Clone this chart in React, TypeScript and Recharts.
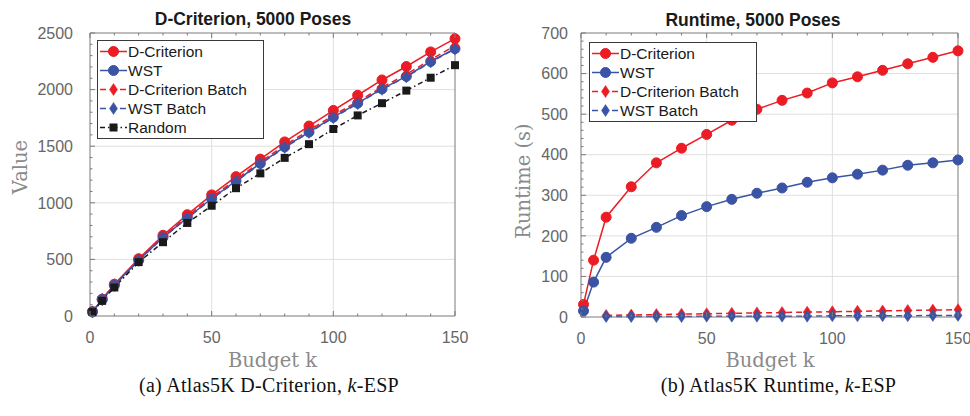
import React from 'react';
import { LineChart, Line, XAxis, YAxis, CartesianGrid, Legend } from 'recharts';

// budget k sampled along the x axis
const budget = [1, 5, 10, 20, 30, 40, 50, 60, 70, 80, 90, 100, 110, 120, 130, 140, 150];

// D-criterion value per method
const valueDCrit = [38, 149, 281, 506, 713, 895, 1070, 1231, 1386, 1538, 1678, 1816, 1950, 2085, 2204, 2333, 2450];
const valueWst = [36, 145, 272, 492, 695, 868, 1038, 1193, 1348, 1494, 1625, 1757, 1880, 2006, 2117, 2248, 2362];
const valueDCritBatch = [37, 147, 276, 498, 702, 878, 1050, 1205, 1362, 1508, 1640, 1772, 1895, 2020, 2135, 2265, 2388];
const valueWstBatch = [36, 144, 270, 490, 692, 864, 1034, 1188, 1343, 1488, 1620, 1752, 1876, 2002, 2112, 2243, 2358];
const valueRandom = [35, 134, 252, 476, 652, 822, 974, 1129, 1260, 1397, 1518, 1652, 1772, 1880, 1991, 2105, 2216];

// runtime in seconds (batch variants start at k = 10)
const runtimeDCrit = [31, 140, 246, 321, 380, 416, 450, 485, 512, 534, 552, 577, 592, 608, 624, 640, 656];
const runtimeWst = [15, 86, 147, 194, 221, 250, 272, 290, 305, 318, 332, 343, 352, 362, 374, 380, 387];
const runtimeDCritBatch = [null, null, 4, 5, 6, 7, 8, 9, 10, 11, 12, 13, 14, 15, 16, 17, 18];
const runtimeWstBatch = [null, null, 1, 1, 1, 1, 2, 2, 2, 2, 2, 3, 3, 3, 3, 4, 4];

// axis tick labels
const kLabels = [0, 50, 100, 150];
const valueLabels = [0, 500, 1000, 1500, 2000, 2500];
const runtimeLabels = [0, 100, 200, 300, 400, 500, 600, 700];

const RED = '#ec1c24';
const BLUE = '#3a53a4';
const BLACK = '#1a1a1a';
const AXIS = '#7a7a7a';
const GRID = '#dfdfdf';
const SANS = '"Liberation Sans", Arial, sans-serif';
const SERIF = '"DejaVu Serif", serif';
const CAPTION = '"Liberation Serif", "Times New Roman", serif';

type Shape = 'circle' | 'diamond' | 'square';
type Series = { key: string; name: string; color: string; dash?: string; shape: Shape };

const valueSeries: Series[] = [
  { key: 'dcrit', name: 'D-Criterion', color: RED, shape: 'circle' },
  { key: 'wst', name: 'WST', color: BLUE, shape: 'circle' },
  { key: 'dcritBatch', name: 'D-Criterion Batch', color: RED, dash: '6 4', shape: 'diamond' },
  { key: 'wstBatch', name: 'WST Batch', color: BLUE, dash: '6 4', shape: 'diamond' },
  { key: 'random', name: 'Random', color: BLACK, dash: '5 3 1.5 3', shape: 'square' },
];
const runtimeSeries = valueSeries.slice(0, 4);

const valueRows = budget.map((k, i) => ({
  k,
  dcrit: valueDCrit[i],
  wst: valueWst[i],
  dcritBatch: valueDCritBatch[i],
  wstBatch: valueWstBatch[i],
  random: valueRandom[i],
}));
const runtimeRows = budget.map((k, i) => ({
  k,
  dcrit: runtimeDCrit[i],
  wst: runtimeWst[i],
  dcritBatch: runtimeDCritBatch[i],
  wstBatch: runtimeWstBatch[i],
}));

// minor tick positions between the labelled ones
const steps = (labels: number[], parts: number) => {
  const out: number[] = [];
  for (let i = 0; i < labels.length - 1; i++) {
    const d = (labels[i + 1] - labels[i]) / parts;
    for (let j = 0; j < parts; j++) out.push(labels[i] + j * d);
  }
  out.push(labels[labels.length - 1]);
  return out;
};

function Marker({ shape, color, cx, cy }: { shape: Shape; color: string; cx: number; cy: number }) {
  if (shape === 'circle') return <circle cx={cx} cy={cy} r={5} fill={color} stroke={color} />;
  if (shape === 'square') return <rect x={cx - 4} y={cy - 4} width={8} height={8} fill={color} />;
  return (
    <polygon
      points={`${cx},${cy - 6} ${cx + 4},${cy} ${cx},${cy + 6} ${cx - 4},${cy}`}
      fill={color}
      stroke={color}
      strokeWidth={0.5}
    />
  );
}

const dotFor = (s: Series) => (p: any) => {
  const key = `${s.key}-${p.index}`;
  if (p.cx == null || p.cy == null || p.value == null) return <g key={key} />;
  return (
    <g key={key}>
      <Marker shape={s.shape} color={s.color} cx={p.cx} cy={p.cy} />
    </g>
  );
};

// inward MATLAB-style tick marks, labels only on the major values
function BoxTick(props: any) {
  const { x, y, payload, side, labels, dx = 0 } = props;
  const v = payload.value;
  const major = labels.includes(v);
  const len = major ? 5 : 2.5;
  let mark;
  if (side === 'bottom') mark = <line x1={x} y1={y} x2={x} y2={y - len} />;
  else if (side === 'top') mark = <line x1={x} y1={y} x2={x} y2={y + len} />;
  else if (side === 'left') mark = <line x1={x} y1={y} x2={x + len} y2={y} />;
  else mark = <line x1={x} y1={y} x2={x - len} y2={y} />;
  let label = null;
  if (major && side === 'bottom')
    label = (
      <text x={x} y={y + 26.5} textAnchor="middle" fill="#666" stroke="none" fontSize={16} fontFamily={SANS}>
        {v}
      </text>
    );
  if (major && side === 'left')
    label = (
      <text x={x + dx} y={y + 5.7} textAnchor="end" fill="#666" stroke="none" fontSize={16} fontFamily={SANS}>
        {v}
      </text>
    );
  return (
    <g>
      <g stroke={AXIS} strokeWidth={1}>{mark}</g>
      {label}
    </g>
  );
}

// legend rows follow the plotting order, styles looked up by dataKey
function LegendBox({ payload, series }: any) {
  const items = (payload || []) as any[];
  return (
    <div
      style={{
        border: '1px solid #3a3a3a',
        background: '#fff',
        padding: '1px 6px 1px 0',
        fontFamily: SANS,
        fontSize: 15.5,
        color: BLACK,
      }}
    >
      {(series as Series[]).map((s) => {
        const it = items.find((d) => d.dataKey === s.key);
        return (
          <div key={s.key} style={{ display: 'flex', alignItems: 'center', height: 19 }}>
            <svg width={30} height={19} style={{ display: 'block' }}>
              <line x1={2} x2={29} y1={9.5} y2={9.5} stroke={s.color} strokeWidth={1.5} strokeDasharray={s.dash} />
              <Marker shape={s.shape} color={s.color} cx={15.5} cy={9.5} />
            </svg>
            <span style={{ lineHeight: '19px', whiteSpace: 'nowrap' }}>{it ? it.value : s.name}</span>
          </div>
        );
      })}
    </div>
  );
}

type PanelProps = {
  width: number;
  rows: any[];
  series: Series[];
  yLabels: number[];
  yParts: number;
  yAxisWidth: number;
  rightMargin: number;
  bottomMargin: number;
  labelDx: number;
  legendLeft: number;
  legendTop: number;
  legendWidth: number;
};

function Panel(p: PanelProps) {
  const kTicks = steps(kLabels, 5);
  const yTicks = steps(p.yLabels, p.yParts);
  const yMax = p.yLabels[p.yLabels.length - 1];
  return (
    <LineChart
      width={p.width}
      height={416}
      data={p.rows}
      margin={{ top: 32, right: p.rightMargin, bottom: p.bottomMargin, left: 0 }}
    >
      <CartesianGrid
        stroke={GRID}
        horizontalValues={p.yLabels.slice(1, -1)}
        verticalValues={kLabels.slice(1, -1)}
      />
      <XAxis
        dataKey="k"
        type="number"
        domain={[0, 150]}
        ticks={kTicks}
        interval={0}
        height={30}
        axisLine={{ stroke: AXIS }}
        tickLine={false}
        tickSize={0}
        tickMargin={0}
        tick={<BoxTick side="bottom" labels={kLabels} />}
      />
      <XAxis
        xAxisId="top"
        orientation="top"
        dataKey="k"
        type="number"
        domain={[0, 150]}
        ticks={kTicks}
        interval={0}
        height={1}
        axisLine={{ stroke: AXIS }}
        tickLine={false}
        tickSize={0}
        tickMargin={0}
        tick={<BoxTick side="top" labels={kLabels} />}
      />
      <YAxis
        type="number"
        domain={[0, yMax]}
        ticks={yTicks}
        interval={0}
        width={p.yAxisWidth}
        axisLine={{ stroke: AXIS }}
        tickLine={false}
        tickSize={0}
        tickMargin={0}
        tick={<BoxTick side="left" labels={p.yLabels} dx={p.labelDx} />}
      />
      <YAxis
        yAxisId="right"
        orientation="right"
        type="number"
        domain={[0, yMax]}
        ticks={yTicks}
        interval={0}
        width={5}
        axisLine={{ stroke: AXIS }}
        tickLine={false}
        tickSize={0}
        tickMargin={0}
        tick={<BoxTick side="right" labels={p.yLabels} />}
      />
      <Legend
        layout="vertical"
        align="center"
        verticalAlign="middle"
        wrapperStyle={{ left: p.legendLeft, top: p.legendTop, width: p.legendWidth }}
        content={(props: any) => <LegendBox payload={props.payload} series={p.series} />}
      />
      {p.series.map((s) => (
        <Line
          key={s.key}
          type="linear"
          dataKey={s.key}
          name={s.name}
          stroke={s.color}
          strokeWidth={1.5}
          strokeDasharray={s.dash}
          dot={dotFor(s)}
          activeDot={false}
          isAnimationActive={false}
        />
      ))}
    </LineChart>
  );
}

export default function App() {
  return (
    <div style={{ position: 'absolute', left: 0, top: 0, width: 970, height: 416, background: '#fff' }}>
      <div style={{ position: 'absolute', left: 0, top: 0 }}>
        <Panel
          width={480}
          rows={valueRows}
          series={valueSeries}
          yLabels={valueLabels}
          yParts={5}
          yAxisWidth={90}
          rightMargin={20}
          bottomMargin={70}
          labelDx={-17}
          legendLeft={97}
          legendTop={40}
          legendWidth={167}
        />
      </div>
      <div style={{ position: 'absolute', left: 480, top: 0 }}>
        <Panel
          width={490}
          rows={runtimeRows}
          series={runtimeSeries}
          yLabels={runtimeLabels}
          yParts={5}
          yAxisWidth={101}
          rightMargin={7}
          bottomMargin={69}
          labelDx={-13}
          legendLeft={109}
          legendTop={42}
          legendWidth={168}
        />
      </div>
      <svg width={970} height={416} style={{ position: 'absolute', left: 0, top: 0, pointerEvents: 'none' }}>
        <g fontFamily={SANS} fontWeight="bold" fontSize={17.5} fill={BLACK} textAnchor="middle">
          <text x={253} y={25}>D-Criterion, 5000 Poses</text>
          <text x={753} y={25.5}>Runtime, 5000 Poses</text>
        </g>
        <g fontFamily={SERIF} fontSize={19.5} fill="#8a8a8a" textAnchor="middle">
          <text x={27} y={167} transform="rotate(-90 27 167)">Value</text>
          <text x={530} y={181} transform="rotate(-90 530 181)">Runtime (s)</text>
          <text x={272.5} y={367}>Budget k</text>
          <text x={770} y={367}>Budget k</text>
        </g>
        <g fontFamily={CAPTION} fontSize={20} fill="#111" textAnchor="middle" letterSpacing={0.3}>
          <text x={269} y={392}>
            (a) Atlas5K D-Criterion, <tspan fontStyle="italic">k</tspan>-ESP
          </text>
          <text x={778.5} y={392}>
            (b) Atlas5K Runtime, <tspan fontStyle="italic">k</tspan>-ESP
          </text>
        </g>
      </svg>
    </div>
  );
}
